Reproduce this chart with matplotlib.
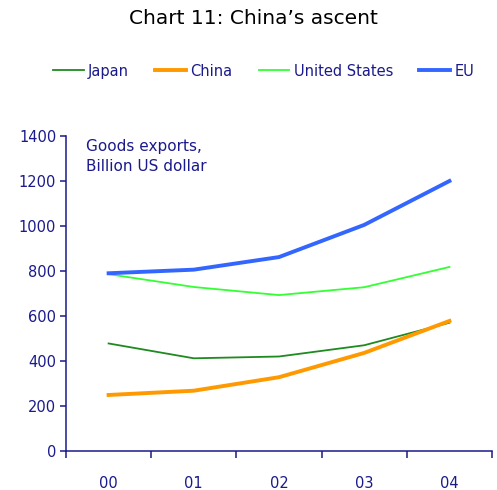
import numpy as np
import matplotlib
matplotlib.use('Agg')
import matplotlib.pyplot as plt

years = ['00', '01', '02', '03', '04']
japan = [478, 412, 420, 470, 570]
china = [249, 268, 328, 436, 578]
usa = [786, 729, 693, 728, 818]
eu = [790, 806, 862, 1005, 1200]

navy = '#1a1a8c'
plt.rcParams.update({
    'font.family': 'DejaVu Sans',
    'axes.linewidth': 1.1,
})

fig = plt.figure(figsize=(4.97, 4.90), dpi=100)
ax = fig.add_axes([0.1328, 0.0796, 0.8572, 0.6428])

x = np.arange(len(years))
ax.plot(x, japan, color='#1f8a1f', lw=1.3, label='Japan')
ax.plot(x, china, color='#ff9900', lw=2.8, label='China')
ax.plot(x, usa, color='#33ff33', lw=1.3, label='United States')
ax.plot(x, eu, color='#3366ff', lw=2.8, label='EU')

ax.set_xlim(-0.5, 4.5)
ax.set_ylim(0, 1400)
ax.set_yticks(np.arange(0, 1401, 200))
ax.set_xticks(x)
ax.set_xticklabels(years)
ax.set_xticks(np.arange(-0.5, 4.6, 1), minor=True)
ax.tick_params(axis='x', which='major', length=0, pad=18, labelsize=10.5, labelcolor=navy)
ax.tick_params(axis='x', which='minor', length=5, width=1.1, color=navy, direction='out')
ax.tick_params(axis='y', length=4, width=1.1, color=navy, labelsize=10.5, labelcolor=navy, pad=3)

for s in ['top', 'right']:
    ax.spines[s].set_visible(False)
for s in ['left', 'bottom']:
    ax.spines[s].set_color(navy)

ax.text(0.047, 0.99, 'Goods exports,\nBillion US dollar', transform=ax.transAxes,
        ha='left', va='top', color=navy, fontsize=11, linespacing=1.4)

fig.text(0.51, 0.962, 'Chart 11: China\u2019s ascent', ha='center', va='center',
         fontsize=14.5, color='black')

leg = fig.legend(loc='center', bbox_to_anchor=(0.53, 0.855), ncol=4, frameon=False,
                 fontsize=10.5, handlelength=2.1, handletextpad=0.3, columnspacing=1.8)
for t in leg.get_texts():
    t.set_color(navy)

fig.savefig('out.png', dpi=100)
